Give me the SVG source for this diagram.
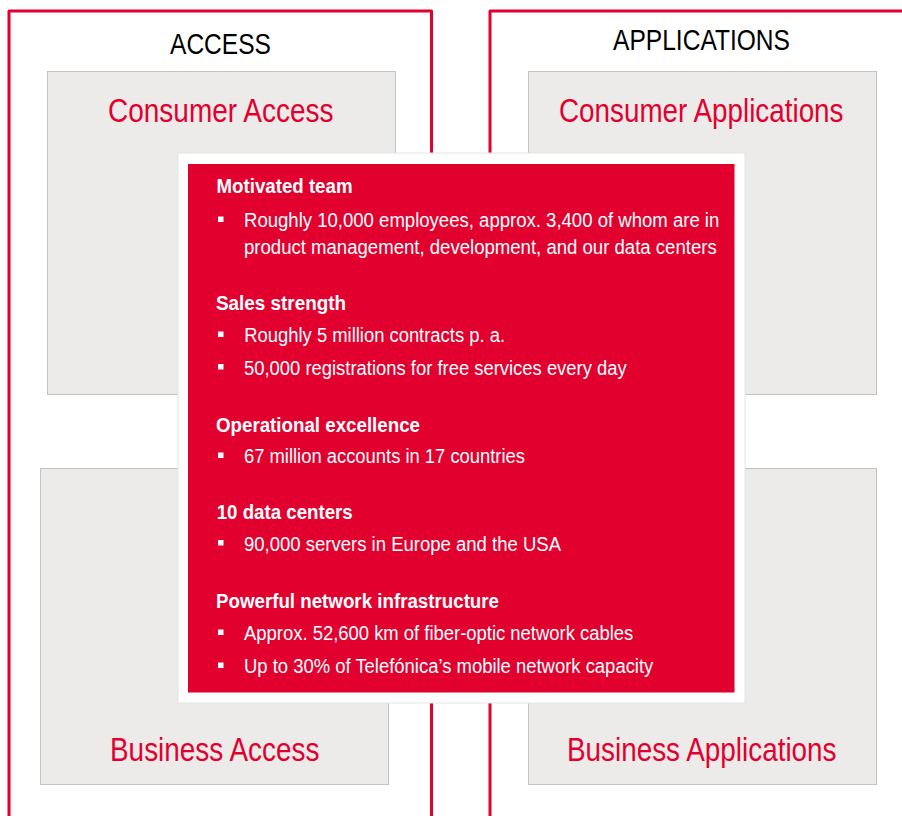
<svg xmlns="http://www.w3.org/2000/svg" width="902" height="816" viewBox="0 0 902 816">
<style>
.frame{fill:none;stroke:#E2002F;stroke-width:3;stroke-linejoin:round}
.gray{fill:#ECEBEA;stroke:#C4C4C4;stroke-width:1}
.title{font-family:"Liberation Sans",Arial,sans-serif;font-size:29px;fill:#000}
.label{font-family:"Liberation Sans",Arial,sans-serif;font-size:33px;fill:#E2002F}
.head{font-family:"Liberation Sans",Arial,sans-serif;font-size:19.5px;font-weight:bold;fill:#fff}
.item{font-family:"Liberation Sans",Arial,sans-serif;font-size:19.5px;fill:#fff}
.bul{fill:#fff}
</style>
<rect width="902" height="816" fill="#fff"/>
<g id="access-frame">
<path class="frame" d="M9,818 V11 H431.5 V818"/>
<text class="title" x="170" y="54" textLength="101" lengthAdjust="spacingAndGlyphs">ACCESS</text>
</g>
<g id="applications-frame">
<path class="frame" d="M490,818 V11 H906"/>
<text class="title" x="613" y="50" textLength="177" lengthAdjust="spacingAndGlyphs">APPLICATIONS</text>
</g>
<g id="consumer-access">
<rect class="gray" x="47.5" y="71.5" width="348" height="323"/>
<text class="label" x="108" y="121.7" textLength="225.5" lengthAdjust="spacingAndGlyphs">Consumer Access</text>
</g>
<g id="consumer-applications">
<rect class="gray" x="528.5" y="71.5" width="348" height="323"/>
<text class="label" x="559" y="121.7" textLength="284.5" lengthAdjust="spacingAndGlyphs">Consumer Applications</text>
</g>
<g id="business-access">
<rect class="gray" x="40.5" y="468.5" width="348" height="316"/>
<text class="label" x="110" y="761" textLength="209.5" lengthAdjust="spacingAndGlyphs">Business Access</text>
</g>
<g id="business-applications">
<rect class="gray" x="528.5" y="468.5" width="348" height="316"/>
<text class="label" x="567" y="761" textLength="269.5" lengthAdjust="spacingAndGlyphs">Business Applications</text>
</g>
<g id="strengths">
<rect x="178" y="153" width="567" height="550" fill="#fff" stroke="#E4E4E4" stroke-width="1"/>
<rect x="188" y="164" width="546.5" height="528.5" fill="#E2002F"/>
<text class="head" x="216.5" y="193.3" textLength="136" lengthAdjust="spacingAndGlyphs">Motivated team</text>
<rect class="bul" x="218" y="216.5" width="5.5" height="5.5"/>
<text class="item" x="244" y="227.3" textLength="475.3" lengthAdjust="spacingAndGlyphs">Roughly 10,000 employees, approx. 3,400 of whom are in</text>
<text class="item" x="244" y="254" textLength="472.7" lengthAdjust="spacingAndGlyphs">product management, development, and our data centers</text>
<text class="head" x="216" y="310" textLength="130" lengthAdjust="spacingAndGlyphs">Sales strength</text>
<rect class="bul" x="218" y="331.5" width="5.5" height="5.5"/>
<text class="item" x="244.3" y="342.3" textLength="260.7" lengthAdjust="spacingAndGlyphs">Roughly 5 million contracts p. a.</text>
<rect class="bul" x="218" y="364" width="5.5" height="5.5"/>
<text class="item" x="244" y="374.7" textLength="382.7" lengthAdjust="spacingAndGlyphs">50,000 registrations for free services every day</text>
<text class="head" x="216" y="431.7" textLength="204" lengthAdjust="spacingAndGlyphs">Operational excellence</text>
<rect class="bul" x="218" y="452.5" width="5.5" height="5.5"/>
<text class="item" x="244" y="463.3" textLength="281" lengthAdjust="spacingAndGlyphs">67 million accounts in 17 countries</text>
<text class="head" x="216.7" y="519" textLength="136" lengthAdjust="spacingAndGlyphs">10 data centers</text>
<rect class="bul" x="218" y="540" width="5.5" height="5.5"/>
<text class="item" x="244" y="550.5" textLength="317" lengthAdjust="spacingAndGlyphs">90,000 servers in Europe and the USA</text>
<text class="head" x="216" y="608.3" textLength="283" lengthAdjust="spacingAndGlyphs">Powerful network infrastructure</text>
<rect class="bul" x="218" y="629.5" width="5.5" height="5.5"/>
<text class="item" x="244" y="640" textLength="389.3" lengthAdjust="spacingAndGlyphs">Approx. 52,600 km of fiber-optic network cables</text>
<rect class="bul" x="218" y="662.5" width="5.5" height="5.5"/>
<text class="item" x="244" y="673.3" textLength="409.3" lengthAdjust="spacingAndGlyphs">Up to 30% of Telefónica’s mobile network capacity</text>
</g>
</svg>
